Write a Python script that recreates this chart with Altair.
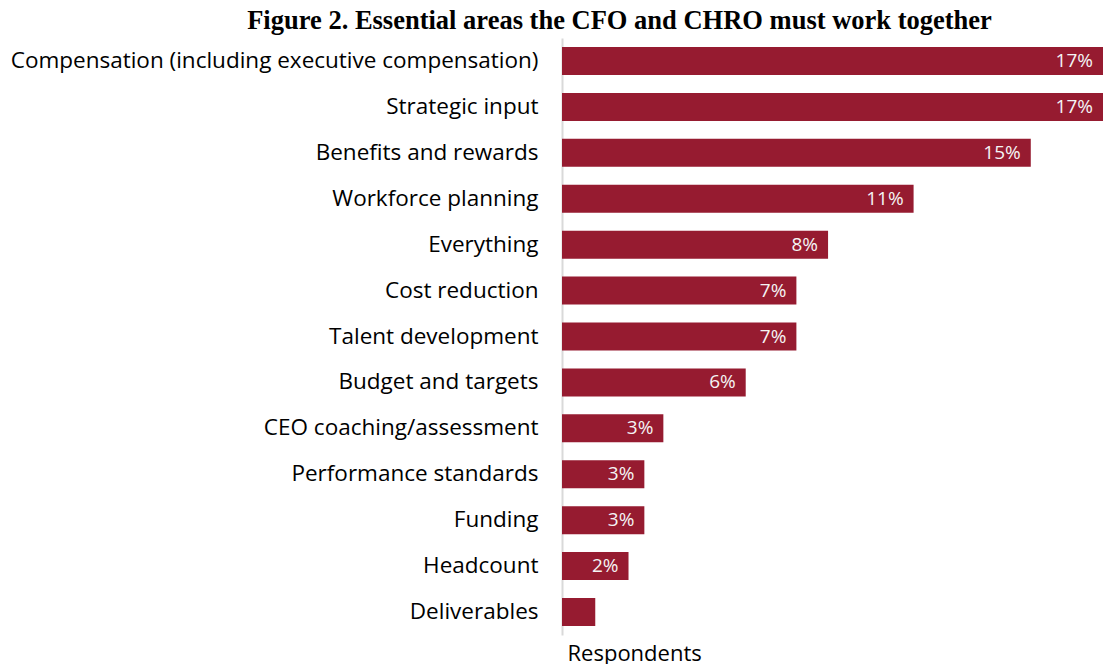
import altair as alt
import pandas as pd

categories = [
    "Compensation (including executive compensation)",
    "Strategic input",
    "Benefits and rewards",
    "Workforce planning",
    "Everything",
    "Cost reduction",
    "Talent development",
    "Budget and targets",
    "CEO coaching/assessment",
    "Performance standards",
    "Funding",
    "Headcount",
    "Deliverables",
]
values = [17.4, 17.4, 14.8, 11.1, 8.4, 7.4, 7.4, 5.8, 3.2, 2.6, 2.6, 2.1, 1.05]
labels = ["17%", "17%", "15%", "11%", "8%", "7%", "7%", "6%", "3%", "3%", "3%", "2%", ""]

df = pd.DataFrame({"area": categories, "value": values, "label": labels})

BAR = "#961B30"
FONT = "Open Sans"

x_scale = alt.Scale(domain=[0, 17.08], nice=False, clamp=True)
y_enc = alt.Y(
    "area:N",
    sort=categories,
    scale=alt.Scale(paddingInner=0.39, paddingOuter=0.195),
    axis=alt.Axis(
        title=None,
        ticks=False,
        domain=True,
        domainColor="#D9D9D9",
        domainWidth=2,
        labelFont=FONT,
        labelFontSize=22.5,
        labelColor="#000000",
        labelPadding=24,
        minExtent=554,
        maxExtent=554,
        labelLimit=600,
    ),
)

bars = alt.Chart(df).mark_bar(color=BAR, clip=True).encode(
    x=alt.X(
        "value:Q",
        scale=x_scale,
        axis=alt.Axis(
            title="Respondents",
            labels=False,
            ticks=False,
            domain=False,
            grid=False,
            titleFont=FONT,
            titleFontSize=22,
            titleFontWeight="normal",
            titleColor="#000000",
            titleAnchor="start",
            titleAlign="left",
            titleBaseline="alphabetic",
            titleX=5,
            titleY=25,
        ),
    ),
    y=y_enc,
)

text = alt.Chart(df).mark_text(
    align="right", baseline="middle", dx=-10, font=FONT, fontSize=19, color="#F4F4F4"
).encode(
    x=alt.X("value:Q", scale=x_scale),
    y=alt.Y("area:N", sort=categories),
    text="label:N",
)

chart = (
    alt.layer(bars, text)
    .properties(
        width=541,
        height=597,
        padding={"left": 0, "right": 0, "top": 0, "bottom": 0},
        title=alt.TitleParams(
            "Figure 2. Essential areas the CFO and CHRO must work together",
            font="Liberation Serif",
            fontSize=26.5,
            fontWeight="bold",
            color="#000000",
            anchor="middle",
            frame="bounds",
            dx=64,
            offset=3.5,
        ),
    )
    .configure_view(stroke=None)
    .configure_axis(grid=False)
)

chart.save("out.html", embed_options={"renderer": "svg", "actions": False})
